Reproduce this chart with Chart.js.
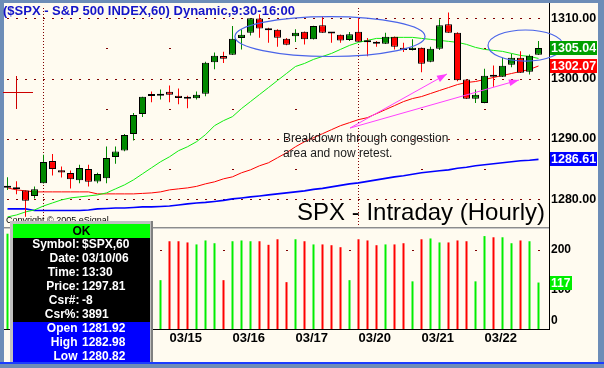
<!DOCTYPE html>
<html><head><meta charset="utf-8">
<script src="https://cdn.jsdelivr.net/npm/chart.js@4.4.1/dist/chart.umd.min.js"></script>
<style>html,body{margin:0;padding:0;background:#6d8db7;overflow:hidden}canvas{display:block}</style>
</head><body>
<canvas id="c" width="604" height="368"></canvas>
<script>
// ---- data (hourly bars, 03/10 12:30 .. 03/22 15:30) ----
const openP  = [1281.90,1281.92,1281.45,1280.56,1282.67,1286.33,1284.83,1284.34,1283.17,1285.00,
                1282.94,1283.50,1286.99,1288.09,1290.81,1294.14,1297.15,1297.13,1297.79,1297.13,
                1296.79,1296.73,1297.46,1302.71,1303.74,1303.94,1306.69,1307.59,1309.92,1308.00,
                1308.09,1306.59,1306.98,1307.76,1306.48,1308.80,1307.50,1307.26,1306.36,1307.76,
                1306.05,1305.80,1305.76,1306.93,1305.10,1304.70,1305.10,1302.77,1304.93,1308.97,
                1307.59,1299.83,1296.63,1295.96,1300.35,1300.28,1302.28,1303.44,1301.11,1303.94];
const highP  = [1283.67,1282.98,1281.50,1282.11,1287.38,1287.49,1285.43,1284.77,1285.71,1285.71,
                1284.39,1288.75,1288.75,1290.80,1294.30,1296.96,1297.84,1298.17,1298.84,1298.34,
                1297.13,1297.84,1302.77,1304.32,1304.44,1308.69,1308.14,1309.97,1310.63,1308.42,
                1308.15,1306.70,1308.14,1307.80,1308.72,1310.25,1307.59,1307.30,1307.69,1310.08,
                1306.69,1306.20,1307.59,1306.95,1305.93,1306.48,1305.15,1305.27,1309.80,1310.91,
                1307.65,1299.88,1298.17,1301.61,1302.16,1303.44,1304.10,1304.53,1303.99,1306.20];
const lowP   = [1281.56,1280.82,1277.13,1280.12,1282.60,1283.94,1283.60,1281.78,1282.67,1282.11,
                1282.67,1282.67,1285.88,1287.95,1289.75,1293.64,1296.06,1296.51,1296.06,1295.73,
                1295.07,1296.51,1297.06,1301.54,1302.57,1303.90,1304.82,1307.14,1306.76,1305.93,
                1305.27,1305.50,1306.03,1305.65,1306.45,1307.55,1305.93,1305.90,1306.20,1306.05,
                1303.70,1305.27,1305.70,1304.82,1304.37,1304.65,1301.05,1302.70,1304.70,1307.55,
                1299.55,1296.60,1295.96,1295.90,1298.62,1300.25,1301.88,1300.92,1300.66,1303.90];
const closeP = [1281.96,1281.65,1279.78,1281.68,1286.16,1285.00,1284.44,1283.34,1285.17,1282.89,
                1284.17,1286.83,1287.92,1290.65,1293.97,1296.96,1297.10,1297.46,1297.29,1296.79,
                1296.63,1297.29,1302.61,1303.77,1303.27,1306.59,1307.26,1309.97,1308.26,1307.97,
                1306.76,1305.60,1307.59,1306.48,1308.69,1307.59,1307.45,1306.31,1307.31,1306.10,
                1306.00,1305.75,1306.93,1305.27,1304.70,1305.10,1302.44,1304.93,1308.80,1307.59,
                1299.72,1296.63,1297.29,1300.45,1300.30,1302.11,1303.44,1300.95,1303.77,1305.04];
const volume = [240,222,230,120,225,222,215,218,220,222,
                118,228,222,225,230,226,220,123,221,221,
                218,213,223,216,123,221,223,221,221,212,
                226,118,226,221,213,213,211,206,123,226,
                223,211,213,213,216,120,226,228,218,218,
                223,221,120,234,231,231,216,223,221,117];
const maGreen = [1277.08,1277.41,1277.91,1278.24,1278.90,1279.40,1279.90,1280.23,1280.40,1280.56,
                 1280.73,1281.06,1281.73,1282.39,1283.22,1284.22,1285.22,1286.21,1287.04,1288.04,
                 1288.70,1289.53,1290.70,1292.19,1293.02,1293.69,1295.02,1296.18,1297.34,1298.50,
                 1299.67,1300.83,1301.99,1302.49,1303.16,1303.65,1304.15,1304.82,1305.48,1305.98,
                 1306.31,1306.64,1306.64,1306.81,1306.81,1306.81,1306.64,1306.48,1306.31,1306.15,
                 1305.98,1305.65,1305.15,1304.82,1304.65,1304.49,1304.15,1303.82,1303.65,1303.32];
const maRed   = [1281.89,1281.56,1281.40,1281.23,1281.23,1281.23,1281.23,1281.23,1281.23,1281.23,
                 1280.90,1280.90,1280.90,1280.90,1280.90,1280.98,1281.06,1281.23,1281.56,1281.73,
                 1281.89,1282.14,1282.56,1282.89,1283.39,1283.72,1284.39,1284.88,1285.55,1286.05,
                 1286.88,1287.71,1288.70,1289.53,1290.20,1290.86,1291.53,1292.19,1292.69,1293.19,
                 1293.52,1294.19,1294.85,1295.51,1296.18,1296.68,1297.01,1297.51,1298.01,1298.50,
                 1299.00,1299.34,1299.50,1299.83,1300.17,1300.50,1300.83,1301.16,1301.50,1302.07];
const maBlue  = [1278.41,1278.41,1278.41,1278.16,1278.16,1278.16,1278.16,1278.16,1278.16,1278.24,
                 1278.41,1278.49,1278.57,1278.57,1278.65,1278.74,1278.74,1278.82,1278.90,1279.07,
                 1279.24,1279.40,1279.49,1279.65,1279.82,1280.07,1280.23,1280.40,1280.56,1280.73,
                 1280.90,1281.06,1281.23,1281.40,1281.64,1281.81,1282.06,1282.31,1282.56,1282.72,
                 1282.97,1283.22,1283.47,1283.72,1283.89,1284.14,1284.39,1284.55,1284.72,1284.88,
                 1285.13,1285.30,1285.55,1285.71,1285.88,1286.05,1286.21,1286.38,1286.46,1286.61];
const dateLabels  = ['03/13','03/14','03/15','03/16','03/17','03/20','03/21','03/22'];
const dayStartIdx = [4,11,18,25,32,39,46,53];
const weekStartIdx = [4,39];
const dayEndIdx   = [3,10,17,24,31,38,45,52,59];
const priceTicks  = [1280,1290,1300,1310];
const priceDots   = [1280,1285,1290,1295,1300,1305,1310];
const volTicks    = [0,100,200];
const titleText   = '($SPX - S&P 500 INDEX,60) Dynamic,9:30-16:00';
const captionText = 'SPX - Intraday (Hourly)';
const noteLines   = ['Breakdown through congestion','area and now retest.'];
const copyrightText = 'Copyright \u00A9 2005 eSignal';
const cursorIdx = 1, cursorPrice = 1297.81;
const infoRows = [['Symbol:','$SPX,60'],['Date:','03/10/06'],['Time:','13:30'],['Price:','1297.81'],['Csr#:','-8'],['Csr%:','3891']];
// annotation anchors in data units: [index, price]
const ellipses = [{cx:35.83, cy:1306.95, rx:10.56, ry:3.31},{cx:57.56, cy:1305.46, rx:4.17, ry:2.57}];
const arrowStart = [38.06,1291.80];
const arrowEnds  = [[48.83,1300.75],[56.83,1299.75]];
const noteAnchor = [30.6,1289.5];
const captionAnchor = [32.17,1276.57];

// ---- styles ----
const FRAME = '#6d8db7', CREAM = '#fffbf0';
const UPC = '#008800', DNC = '#ff0000', VUP = '#00ee00', VDN = '#ff0000', DOT = '#800000';
const idx = openP.map((_, i) => i);
const isUp = idx.map(i => closeP[i] >= openP[i]);
const bodyColors = idx.map(i => Math.abs(closeP[i]-openP[i]) < 0.1 ? '#000' : (isUp[i] ? UPC : DNC));
const wickColors = idx.map(i => isUp[i] ? UPC : DNC);
const volColors  = idx.map(i => isUp[i] ? VUP : VDN);
const F = (w, s) => `${w} ${s}px "Liberation Sans", Arial, sans-serif`;

const bgPlugin = {
  id: 'bg',
  beforeDraw(c) {
    const g = c.ctx;
    g.save();
    g.fillStyle = FRAME; g.fillRect(0,0,604,368);
    g.fillStyle = CREAM; g.fillRect(4,3,594,359);
    g.fillStyle = '#1a3cff'; g.fillRect(0,362,604,2);
    g.restore();
  },
  beforeDatasetsDraw(c) {
    const g = c.ctx, x = c.scales.x, y = c.scales.y, v = c.scales.v;
    g.save();
    g.fillStyle = DOT;
    priceTicks.forEach(p => {
      const py = Math.round(y.getPixelForValue(p));
      idx.forEach(i => g.fillRect(Math.floor(x.getPixelForValue(i)), py, 2, 1));
    });
    dayStartIdx.forEach(d => {
      if (weekStartIdx.includes(d)) return;
      const px = Math.floor(x.getPixelForValue(d));
      priceDots.forEach(p => g.fillRect(px, Math.round(y.getPixelForValue(p)), 2, 1));
    });
    weekStartIdx.forEach(d => {
      const px = Math.floor(x.getPixelForValue(d));
      for (let yy = 8; yy < 226; yy += 3) g.fillRect(px, yy, 1, 1);
    });
    const vy = Math.round(v.getPixelForValue(200));
    dayEndIdx.forEach(d => g.fillRect(Math.floor(x.getPixelForValue(d)), vy, 2, 1));
    // panel separator
    g.fillStyle = '#8c8c8c'; g.fillRect(4,227,545,1);
    g.fillStyle = '#c8c8c8'; g.fillRect(4,228,545,1);
    g.restore();
  },
  afterDraw(c) {
    const g = c.ctx, x = c.scales.x, y = c.scales.y, v = c.scales.v;
    const X = i => x.getPixelForValue(i), Y = p => y.getPixelForValue(p);
    g.save();
    // ellipses
    g.strokeStyle = '#4a64e8'; g.lineWidth = 1.2;
    ellipses.forEach(e => {
      const cx = X(e.cx), cy = Y(e.cy), rx = X(e.cx + e.rx) - cx, ry = cy - Y(e.cy + e.ry);
      g.beginPath(); g.ellipse(cx, cy, rx, ry, 0, 0, Math.PI*2); g.stroke();
    });
    // arrows
    g.strokeStyle = '#ff40ff'; g.fillStyle = '#ff40ff'; g.lineWidth = 1;
    const sx = X(arrowStart[0]), sy = Y(arrowStart[1]);
    arrowEnds.forEach(a => {
      const ex = X(a[0]), ey = Y(a[1]);
      g.beginPath(); g.moveTo(sx, sy); g.lineTo(ex, ey); g.stroke();
      const ang = Math.atan2(ey - sy, ex - sx), L = 10, W = 3.5;
      g.beginPath(); g.moveTo(ex, ey);
      g.lineTo(ex - L*Math.cos(ang) + W*Math.sin(ang), ey - L*Math.sin(ang) - W*Math.cos(ang));
      g.lineTo(ex - L*Math.cos(ang) - W*Math.sin(ang), ey - L*Math.sin(ang) + W*Math.cos(ang));
      g.closePath(); g.fill();
    });
    // cursor cross
    g.fillStyle = '#cc0000';
    const cxp = Math.floor(X(cursorIdx)), cyp = Math.round(Y(cursorPrice));
    g.fillRect(cxp - 13, cyp, 30, 1); g.fillRect(cxp, cyp - 16, 1, 33);
    // note text
    g.fillStyle = '#202020'; g.font = F('normal', 12); g.textAlign = 'left'; g.textBaseline = 'alphabetic';
    noteLines.forEach((t, k) => g.fillText(t, X(noteAnchor[0]), Y(noteAnchor[1]) + 15*k));
    // caption
    g.fillStyle = '#000'; g.font = F('normal', 24);
    g.fillText(captionText, X(captionAnchor[0]), Y(captionAnchor[1]));
    // copyright
    g.font = F('normal', 9); g.fillText(copyrightText, 6, 223);
    // title
    g.fillStyle = '#1414c8'; g.font = F('bold', 13); g.textBaseline = 'middle';
    g.fillText(titleText, 3, 11);
    // price axis value boxes
    const box = (bg, yy, txt, w) => {
      g.fillStyle = bg; g.fillRect(550, Math.round(yy) - 7, w, 14);
      g.fillStyle = '#fff'; g.textAlign = 'left'; g.textBaseline = 'middle';
      g.fillText(txt, 551, Math.round(yy) + 0.5);
    };
    g.font = F('bold', 12.5);
    box('#00a000', Y(closeP[59]), closeP[59].toFixed(2), 47);
    box('#ff0000', Y(maRed[59]), maRed[59].toFixed(2), 47);
    box('#0000ff', Y(maBlue[59]), maBlue[59].toFixed(2), 47);
    // volume axis labels
    g.font = F('bold', 12); g.fillStyle = '#000'; g.textAlign = 'left'; g.textBaseline = 'middle';
    volTicks.forEach(t => {
      const yy = Math.min(v.getPixelForValue(t), c.chartArea.bottom - 8);
      g.fillText(String(t), 551, yy);
    });
    box('#00ee00', v.getPixelForValue(volume[59]), String(volume[59]), 22);
    // info box
    g.fillStyle = '#c0c0c0'; g.fillRect(10,221,143,141);
    g.fillStyle = '#808080'; g.fillRect(151,221,2,141);
    g.fillStyle = '#00ff00'; g.fillRect(13,224,137,14);
    g.fillStyle = '#000000'; g.fillRect(13,238,137,84);
    g.fillStyle = '#0000ff'; g.fillRect(13,322,137,40);
    g.font = F('bold', 12); g.textBaseline = 'middle';
    g.fillStyle = '#000'; g.textAlign = 'center'; g.fillText('OK', 81.5, 231.5);
    g.fillStyle = '#fff';
    infoRows.forEach((r, k) => {
      const yy = 245 + 14*k;
      g.textAlign = 'right'; g.fillText(r[0], 79.5, yy);
      g.textAlign = 'left'; g.fillText(r[1], 82, yy);
    });
    const ohlc = [['Open', openP[cursorIdx]], ['High', highP[cursorIdx]], ['Low', lowP[cursorIdx]]];
    ohlc.forEach((r, k) => {
      const yy = 329 + 14*k;
      g.textAlign = 'right'; g.fillText(r[0], 77.5, yy);
      g.textAlign = 'left'; g.fillText(r[1].toFixed(2), 82, yy);
    });
    g.restore();
  }
};

new Chart(document.getElementById('c').getContext('2d'), {
  type: 'bar',
  data: { datasets: [
    { type:'bar', label:'body', data: idx.map(i => ({x:i, y:[openP[i], closeP[i]]})), yAxisID:'y',
      barThickness:7, grouped:false, backgroundColor: bodyColors, borderColor:'#000', borderWidth:1,
      borderSkipped:false, minBarLength:2, inflateAmount:0, order:1 },
    { type:'bar', label:'wick', data: idx.map(i => ({x:i, y:[lowP[i], highP[i]]})), yAxisID:'y',
      barThickness:1, grouped:false, backgroundColor: wickColors, borderWidth:0, inflateAmount:0, order:2 },
    { type:'line', label:'ma1', data: idx.map(i => ({x:i, y:maGreen[i]})), yAxisID:'y',
      borderColor:'#11ee11', borderWidth:1, pointRadius:0, tension:0, order:3 },
    { type:'line', label:'ma2', data: idx.map(i => ({x:i, y:maRed[i]})), yAxisID:'y',
      borderColor:'#ff0000', borderWidth:1, pointRadius:0, tension:0, order:3 },
    { type:'line', label:'ma3', data: idx.map(i => ({x:i, y:maBlue[i]})), yAxisID:'y',
      borderColor:'#0000ff', borderWidth:1.6, pointRadius:0, tension:0, order:3 },
    { type:'bar', label:'vol', data: idx.map(i => ({x:i, y:volume[i]})), yAxisID:'v',
      barThickness:2, grouped:false, backgroundColor: volColors, borderWidth:0, inflateAmount:0, order:4 }
  ]},
  options: {
    responsive:false, animation:false, devicePixelRatio:1, events:[],
    layout:{padding:{left:4, top:3, right:0, bottom:0}},
    plugins:{legend:{display:false}, tooltip:{enabled:false}},
    scales:{
      x:{type:'linear', min:-0.3889, max:60.1667, offset:false,
         grid:{display:false, drawTicks:false}, border:{display:true, color:'#000'},
         afterBuildTicks: s => { s.ticks = dayStartIdx.map(d => ({value:d})); },
         afterFit: s => { s.height = 39; s.paddingLeft = 0; s.paddingRight = 0; },
         ticks:{autoSkip:false, maxRotation:0, minRotation:0, align:'start', padding:2, color:'#000',
                font:{family:'"Liberation Sans", Arial, sans-serif', weight:'bold', size:13},
                callback: val => dateLabels[dayStartIdx.indexOf(val)] }},
      y:{type:'linear', position:'right', min:1258.53, max:1312.5,
         grid:{display:false, drawTicks:false}, border:{display:true, color:'#000'},
         afterBuildTicks: s => { s.ticks = priceTicks.map(p => ({value:p})); },
         afterFit: s => { s.width = 55; s.paddingTop = 0; s.paddingBottom = 0; },
         ticks:{padding:2, color:'#000', font:{family:'"Liberation Sans", Arial, sans-serif', weight:'bold', size:12.5},
                callback: val => Number(val).toFixed(2)}},
      v:{type:'linear', display:false, min:0, max:821,
         afterFit: s => { s.paddingTop = 0; s.paddingBottom = 0; }}
    }
  },
  plugins:[bgPlugin]
});
</script>
</body></html>
